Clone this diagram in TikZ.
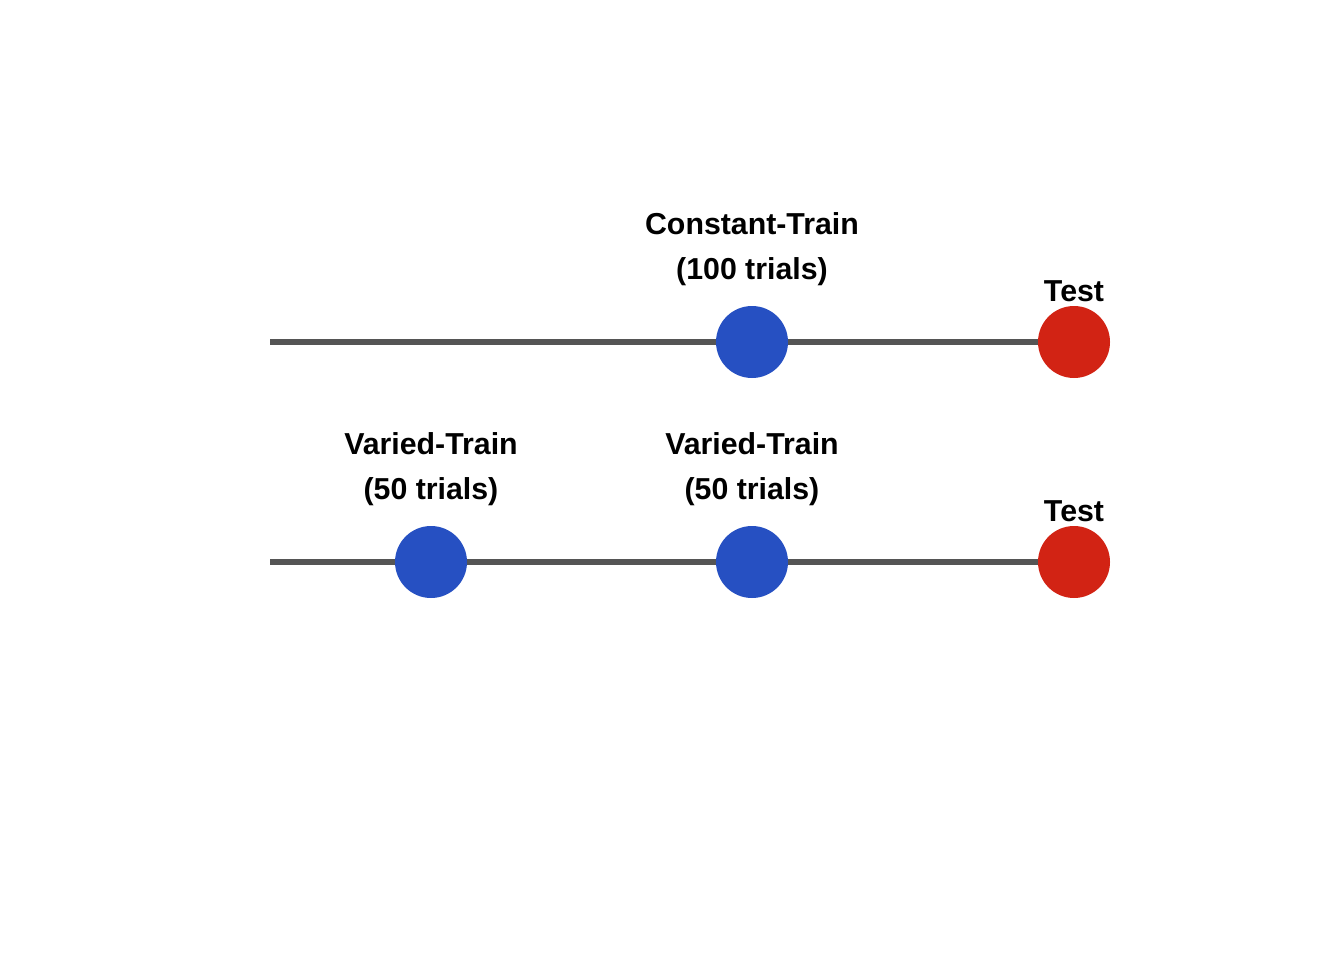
\documentclass[tikz,border=0pt]{standalone}
\usepackage{fontspec}
\setmainfont{Liberation Sans}
\usetikzlibrary{positioning}
\definecolor{trainblue}{RGB}{38,80,194}
\definecolor{testred}{RGB}{210,35,20}
\definecolor{linegray}{RGB}{85,85,85}
\tikzset{
  dot/.style={circle, minimum size=72pt, inner sep=0pt},
  traindot/.style={dot, fill=trainblue},
  testdot/.style={dot, fill=testred},
  lbl/.style={font=\bfseries\fontsize{30.3}{45}\selectfont, align=center, inner sep=0pt},
  track/.style={draw=linegray, line width=6pt}
}
\begin{document}
\begin{tikzpicture}[x=1pt,y=-1pt]
\useasboundingbox (0,0) rectangle (1344,960);
\coordinate (s1) at (270,342);
\coordinate (m1) at (591,342);
\coordinate (s2) at (270,562);
\coordinate (m2) at (591,562);
\node[traindot] (c1) at (752,342) {};
\node[testdot] (t1) at (1074,342) {};
\node[traindot] (v1) at (431,562) {};
\node[traindot] (v2) at (752,562) {};
\node[testdot] (t2) at (1074,562) {};
\draw[track] (s1) -- (m1);
\draw[track] (m1) -- (c1);
\draw[track] (c1) -- (t1);
\draw[track] (s2) -- (v1);
\draw[track] (v1) -- (m2);
\draw[track] (m2) -- (v2);
\draw[track] (v2) -- (t2);
\node[lbl, above=20pt of c1] (c1l) {Constant-Train\\(100 trials)};
\node[lbl, above=4pt of t1] (t1l) {Test};
\node[lbl, above=20pt of v1] (v1l) {Varied-Train\\(50 trials)};
\node[lbl, above=20pt of v2] (v2l) {Varied-Train\\(50 trials)};
\node[lbl, above=4pt of t2] (t2l) {Test};
\end{tikzpicture}
\end{document}
